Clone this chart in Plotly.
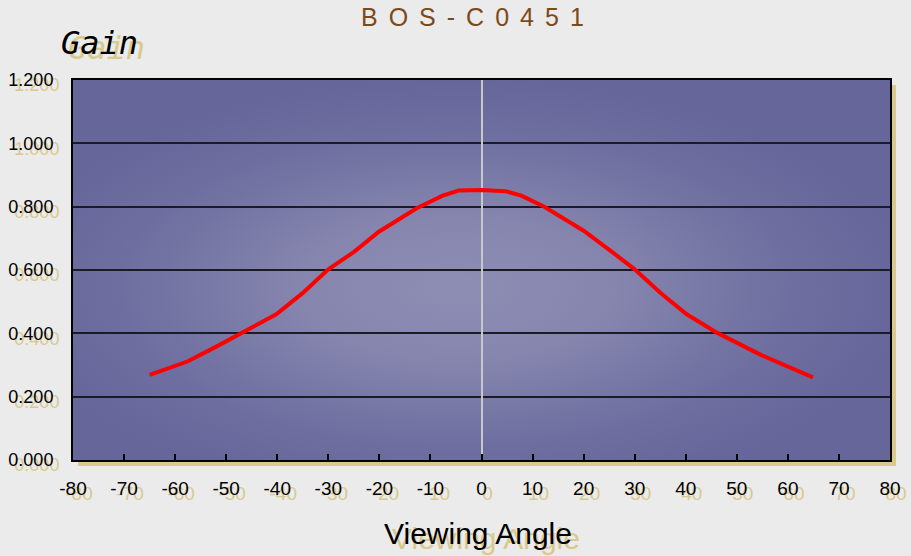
import base64
import plotly.graph_objects as go

# ---- data ----
angles = [-65, -57.6, -52.4, -45.8, -40.2, -35.1, -30, -24.9, -20.1, -12.7, -7.6, -4.5, 0,
          4.7, 7.8, 12.3, 20, 25.1, 30, 35.3, 40.2, 46, 54.7, 64.9]
gain = [0.269, 0.311, 0.354, 0.411, 0.460, 0.526, 0.602, 0.658, 0.721, 0.795, 0.835, 0.851, 0.853,
        0.849, 0.835, 0.800, 0.724, 0.663, 0.602, 0.524, 0.460, 0.403, 0.332, 0.261]
x_ticks = list(range(-80, 81, 10))
y_ticks = [0, 0.2, 0.4, 0.6, 0.8, 1.0, 1.2]
title_text = "BOS-C0451"
y_title = "Gain"
x_title = "Viewing Angle"

TAN = "#d9c98e"
SHADOW = f"6px 5px 0px {TAN}"
XTICKFONT = dict(family="Liberation Sans, Arial", size=19, color="#000000", shadow=SHADOW)
YTICKFONT = dict(family="Liberation Sans, Arial", size=18, color="#000000", shadow=SHADOW)

# radial gradient background for the plot area
svg = f'''<svg xmlns="http://www.w3.org/2000/svg" width="817" height="380" viewBox="0 0 817 380" preserveAspectRatio="none">
<defs><radialGradient id="g" cx="0.47" cy="0.55" r="0.55">
<stop offset="0" stop-color="#8e8eb4"/>
<stop offset="0.35" stop-color="#8585ae"/>
<stop offset="0.75" stop-color="#6e6ea0"/>
<stop offset="1" stop-color="#66669a"/>
</radialGradient></defs>
<rect width="817" height="380" fill="url(#g)"/></svg>'''
svg_uri = "data:image/svg+xml;base64," + base64.b64encode(svg.encode()).decode()

fig = go.Figure()
fig.add_trace(go.Scatter(
    x=angles, y=gain, mode="lines",
    line=dict(color="#ff0000", width=4),
    hoverinfo="skip", showlegend=False,
))

fig.update_layout(
    width=911, height=556,
    margin=dict(l=73, r=21, t=80, b=96, autoexpand=False),
    paper_bgcolor="#ebebeb",
    plot_bgcolor="#66669a",
    showlegend=False,
    images=[dict(source=svg_uri, xref="x", yref="y", x=-80, y=1.2,
                 sizex=160, sizey=1.2, sizing="stretch", layer="below")],
    shapes=[
        dict(type="rect", xref="paper", yref="paper", x0=5/817, x1=1+6/817,
             y0=-6/380, y1=0, fillcolor=TAN, line=dict(width=0), layer="below"),
        dict(type="rect", xref="paper", yref="paper", x0=1, x1=1+6/817,
             y0=-6/380, y1=1-5/380, fillcolor=TAN, line=dict(width=0), layer="below"),
    ],
    annotations=[
        dict(text=f'<span style="letter-spacing:11px">{title_text}</span>',
             xref="paper", yref="paper", x=(478-73)/817, y=1+(80-17)/380,
             xanchor="center", yanchor="middle", showarrow=False,
             font=dict(family="Liberation Sans, Arial", size=25, color="#7b4a1b")),
        dict(text=y_title, xref="paper", yref="paper", x=(59-73)/817, y=1+(80-43)/380,
             xanchor="left", yanchor="middle", showarrow=False,
             font=dict(family="DejaVu Sans Mono", size=32, color="#000000",
                       style="italic", shadow=f"7px 5px 0px {TAN}")),
        dict(text=x_title, xref="paper", yref="paper", x=(478-73)/817, y=-(533-460)/380,
             xanchor="center", yanchor="middle", showarrow=False,
             font=dict(family="Liberation Sans, Arial", size=30, color="#000000",
                       shadow=f"8px 5px 0px {TAN}")),
    ],
)

fig.update_xaxes(
    range=[-80, 80], tickvals=x_ticks, ticktext=[str(v) for v in x_ticks],
    showgrid=False, zeroline=True, zerolinecolor="#c8c8c8", zerolinewidth=1.5,
    ticks="inside", ticklen=6, tickwidth=1.5, tickcolor="#000000",
    showline=True, linecolor="#000000", linewidth=2, mirror=True,
    ticklabelstandoff=10, automargin=False,
    tickfont=XTICKFONT, fixedrange=True,
)
fig.update_yaxes(
    range=[0, 1.2], tickvals=y_ticks, tickformat=".3f",
    showgrid=True, gridcolor="#1a1a28", gridwidth=1.5, zeroline=False,
    ticks="", showline=True, linecolor="#000000", linewidth=2, mirror=True,
    ticklabelstandoff=14, automargin=False,
    tickfont=YTICKFONT, fixedrange=True,
)

fig.write_html("out.html", config={"displayModeBar": False},
               post_script="document.body.style.margin='0';")
